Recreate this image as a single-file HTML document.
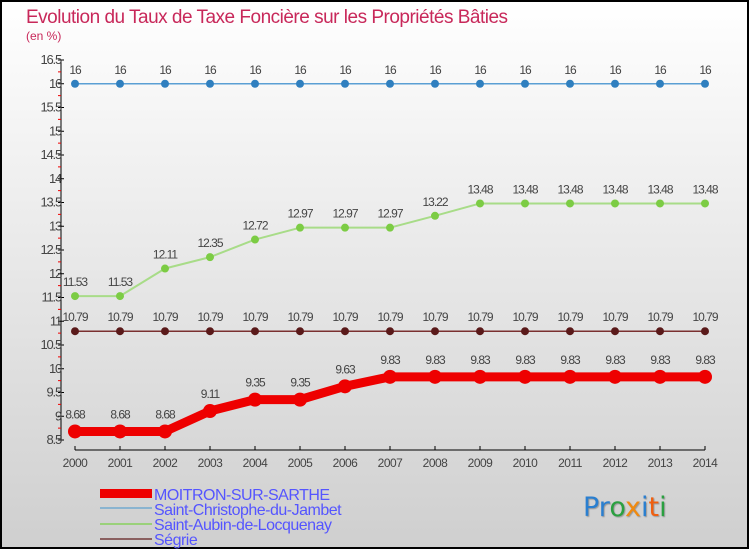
<!DOCTYPE html>
<html><head><meta charset="utf-8"><style>
html,body{margin:0;padding:0}
body{width:750px;height:550px;overflow:hidden;font-family:"Liberation Sans",sans-serif}
svg{display:block}
</style></head><body>
<svg id="chart" width="750" height="550" xmlns="http://www.w3.org/2000/svg">
<defs><linearGradient id="bg" x1="0" y1="0" x2="0" y2="1"><stop offset="0" stop-color="#ffffff"/><stop offset="1" stop-color="#cfcfcf"/></linearGradient></defs>
<rect x="1" y="1" width="747" height="547" fill="url(#bg)" stroke="#000" stroke-width="2"/>
<text x="26" y="23" font-size="19" fill="#c8285a" letter-spacing="-0.5" font-weight="300">Evolution du Taux de Taxe Foncière sur les Propriétés Bâties</text>
<text x="26" y="40" font-size="12" fill="#c8285a">(en %)</text>
<g id="axes"></g>
<g id="series"></g>
<g>
<rect x="100" y="489" width="52" height="9" fill="#e00"/>
<rect x="100" y="507" width="52" height="2" fill="#8ab4d0"/>
<rect x="100" y="523" width="52" height="2" fill="#9ad17a"/>
<rect x="100" y="538" width="52" height="2" fill="#8a6060"/>
<text x="154" y="500" font-size="16" fill="#5555ff" letter-spacing="-0.5">MOITRON-SUR-SARTHE</text>
<text x="154" y="515" font-size="16" fill="#5555ff" letter-spacing="-0.5">Saint-Christophe-du-Jambet</text>
<text x="154" y="530" font-size="16" fill="#5555ff" letter-spacing="-0.5">Saint-Aubin-de-Locquenay</text>
<text x="154" y="545" font-size="16" fill="#5555ff" letter-spacing="-0.5">Ségrie</text>
</g>
<text x="583" y="516" font-size="27" font-family="DejaVu Sans, sans-serif" style="text-shadow:1px 1px 1px #999"><tspan fill="#2a7fd0">Pr</tspan><tspan fill="#2aa040">o</tspan><tspan fill="#f08a10">x</tspan><tspan fill="#2a7fd0">i</tspan><tspan fill="#f06010">t</tspan><tspan fill="#2aa040">i</tspan></text>
</svg>
<script>
const years = [2000,2001,2002,2003,2004,2005,2006,2007,2008,2009,2010,2011,2012,2013,2014];
const moitron = [8.68,8.68,8.68,9.11,9.35,9.35,9.63,9.83,9.83,9.83,9.83,9.83,9.83,9.83,9.83];
const stChristophe = [16,16,16,16,16,16,16,16,16,16,16,16,16,16,16];
const stAubin = [11.53,11.53,12.11,12.35,12.72,12.97,12.97,12.97,13.22,13.48,13.48,13.48,13.48,13.48,13.48];
const segrie = [10.79,10.79,10.79,10.79,10.79,10.79,10.79,10.79,10.79,10.79,10.79,10.79,10.79,10.79,10.79];
const yTicks = [8.5,9,9.5,10,10.5,11,11.5,12,12.5,13,13.5,14,14.5,15,15.5,16,16.5];
const yMin = 8.5, yMax = 16.5;
const NS = "http://www.w3.org/2000/svg";
function xPos(i){ return 75 + i * (630 / (years.length - 1)); }
function yPos(v){ return 440 - (v - yMin) / (yMax - yMin) * 380; }
function mk(tag, attrs, parent){
  const e = document.createElementNS(NS, tag);
  for (const k in attrs) e.setAttribute(k, attrs[k]);
  parent.appendChild(e); return e;
}
const axes = document.getElementById('axes');
const ax = mk('line', {x1:61,y1:yPos(yMax),x2:61,y2:yPos(yMin),stroke:'#000','stroke-width':1}, axes);


yTicks.forEach((t, i) => {
  const y = yPos(t);
  const tk = mk('line', {x1:58,y1:y,x2:64,y2:y,stroke:'#000'}, axes);
  
  
  if (i < yTicks.length - 1) {
    const m = mk('line', {x1:58,y1:y-11.875,x2:61,y2:y-11.875,stroke:'#e00'}, axes);
    
    
  }
  const lb = mk('text', {x:61,y:y+4,'text-anchor':'end','font-size':13,fill:'#444','letter-spacing':'-1.2'}, axes);
  lb.textContent = String(t);
  
  
});
const xa = mk('line', {x1:xPos(0),y1:450,x2:xPos(years.length-1),y2:450,stroke:'#000'}, axes);


years.forEach((yr, i) => {
  const x = xPos(i);
  const tk = mk('line', {x1:x,y1:446,x2:x,y2:450,stroke:'#000'}, axes);
  
  
  const lb = mk('text', {x:x,y:467,'text-anchor':'middle','font-size':12,fill:'#444','letter-spacing':'-0.5'}, axes);
  lb.textContent = String(yr);
  
  
});
const series = document.getElementById('series');
function draw(vals, name, color, width, r, dotColor){
  const g = mk('g', {}, series);
  
  
  const pts = vals.map((v, i) => xPos(i) + ',' + yPos(v)).join(' ');
  const pl = mk('polyline', {points:pts,fill:'none',stroke:color,'stroke-width':width,'stroke-linejoin':'round'}, g);
  
  
  vals.forEach((v, i) => {
    const c = mk('circle', {cx:xPos(i),cy:yPos(v),r:r,fill:dotColor}, g);
    
    
    const t = mk('text', {x:xPos(i),y:yPos(v)-r-6,'text-anchor':'middle','font-size':12,fill:'#444','letter-spacing':'-1'}, g);
    t.textContent = String(v);
    
    
  });
}
draw(stChristophe, 'saint-christophe', '#5a9fd4', 1.5, 4, '#2f7fbf');
draw(stAubin, 'saint-aubin', '#a8dc88', 2, 4, '#7ccc44');
draw(segrie, 'segrie', '#7a3030', 1.5, 4, '#5a1a1a');
draw(moitron, 'moitron', '#ee0000', 9, 7, '#ee0000');
</script>
</body></html>
